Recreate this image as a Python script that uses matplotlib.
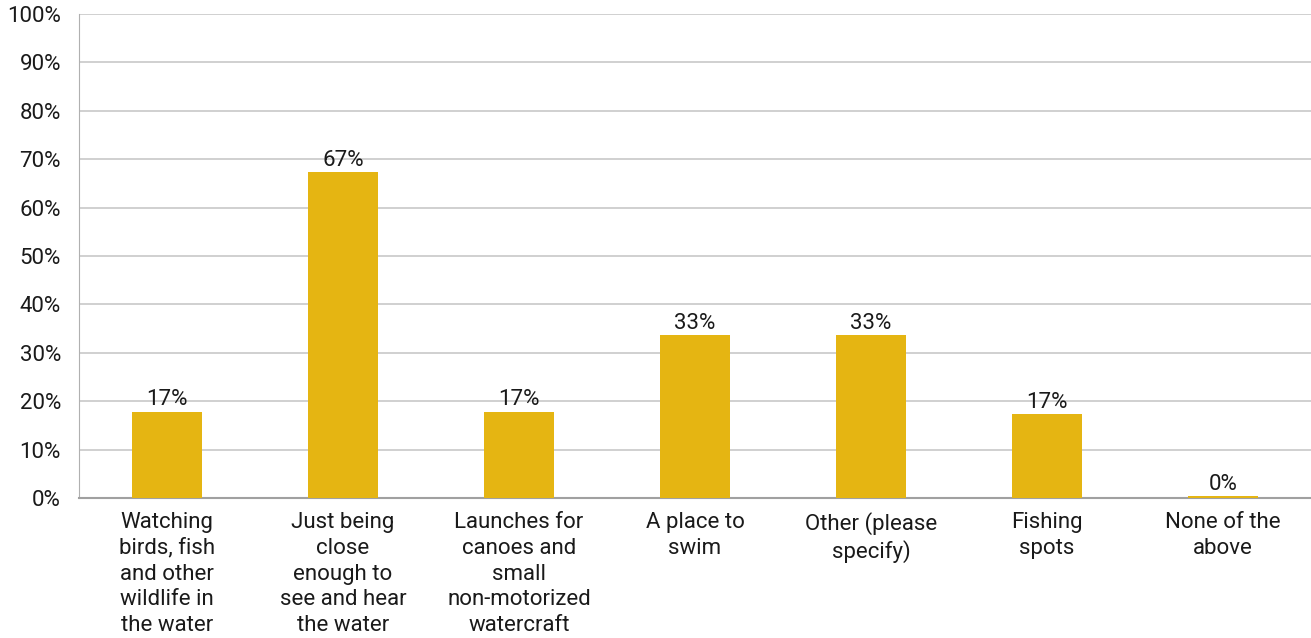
import matplotlib
matplotlib.use("Agg")
import matplotlib.pyplot as plt

categories = [
    "Watching\nbirds, fish\nand other\nwildlife in\nthe water",
    "Just being\nclose\nenough to\nsee and hear\nthe water",
    "Launches for\ncanoes and\nsmall\nnon-motorized\nwatercraft",
    "A place to\nswim",
    "Other (please\nspecify)",
    "Fishing\nspots",
    "None of the\nabove",
]
values = [17.8, 67.3, 17.8, 33.6, 33.6, 17.3, 0.4]
value_labels = ["17%", "67%", "17%", "33%", "33%", "17%", "0%"]
yticks = [0, 10, 20, 30, 40, 50, 60, 70, 80, 90, 100]

plt.rcParams['font.family'] = ['Roboto', 'DejaVu Sans']

fig = plt.figure(figsize=(13.11, 6.38), dpi=100)
ax = fig.add_axes([0.0603, 0.2194, 0.9397, 0.7586])

x = list(range(len(categories)))
bars = ax.bar(x, values, width=0.4, color='#e5b512', zorder=3)

for b, lab in zip(bars, value_labels):
    ax.text(b.get_x() + b.get_width() / 2, b.get_height() + 0.3, lab,
            ha='center', va='bottom', fontsize=16, color='#1a1a1a')

ax.set_xlim(-0.5, len(categories) - 0.5)
ax.set_ylim(0, 100)
ax.set_yticks(yticks)
ax.set_yticklabels([f"{t}%" for t in yticks], fontsize=16, color='#1a1a1a')
ax.set_xticks(x)
ax.set_xticklabels(categories, fontsize=16, color='#1a1a1a', linespacing=1.3)
ax.tick_params(axis='both', length=0)
ax.tick_params(axis='x', pad=10)
ax.tick_params(axis='y', pad=13)

ax.yaxis.grid(True, color='#c8c8c8', linewidth=1.2, zorder=0)
ax.set_axisbelow(True)
ax.spines['top'].set_visible(False)
ax.spines['right'].set_visible(False)
ax.spines['left'].set_color('#b0b0b0')
ax.spines['bottom'].set_color('#a0a0a0')
ax.spines['bottom'].set_linewidth(1.5)

fig.savefig("out.png", dpi=100)
